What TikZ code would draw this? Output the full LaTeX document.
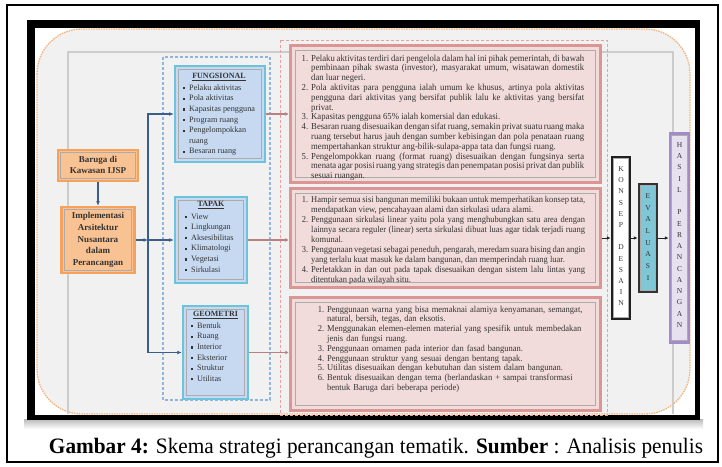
\documentclass[tikz,border=0pt]{standalone}
\usepackage{fontspec}
\setmainfont{Liberation Serif}
\newfontfamily\condserif[FakeStretch=0.945]{Liberation Serif}
\usepackage{graphicx}
\usetikzlibrary{arrows.meta,calc}
\definecolor{bgg}{HTML}{F1F1F1}
\definecolor{orbrd}{HTML}{F6A25A}
\definecolor{orfill}{HTML}{F9C293}
\definecolor{ordash}{HTML}{F5B27A}
\definecolor{blbrd}{HTML}{6CC4DC}
\definecolor{blfill}{HTML}{C6D9F1}
\definecolor{bldash}{HTML}{8FB4E0}
\definecolor{rdbrd}{HTML}{D99694}
\definecolor{rdfill}{HTML}{F2DCDB}
\definecolor{rddash}{HTML}{E8A0A0}
\definecolor{arrblue}{HTML}{3A5D8A}
\definecolor{evfill}{HTML}{7FC6D6}
\definecolor{habrd}{HTML}{A08CC8}
\definecolor{hafill}{HTML}{E6E0EF}
\definecolor{txt}{HTML}{333333}
\newcommand\bsq{\makebox[6pt][l]{\rule[1pt]{2.2pt}{2.2pt}}}
\newenvironment{rlist}[1]{\hyphenpenalty=10000\exhyphenpenalty=10000\begin{list}{\arabic{enumi}.}{\usecounter{enumi}\setlength{\leftmargin}{#1}\setlength{\labelwidth}{8pt}\setlength{\labelsep}{\dimexpr#1-8pt\relax}\setlength{\itemsep}{0pt}\setlength{\parsep}{0pt}\setlength{\topsep}{0pt}\setlength{\partopsep}{0pt}}}{\end{list}}
\newcommand\innerbox[2]{\draw[innerln] ($(#1.north west)+(#2,-#2)$) rectangle ($(#1.south east)+(-#2,#2)$);}
\begin{document}
\begin{tikzpicture}[x=1pt,y=-1pt,
  orangebox/.style={draw=orbrd,line width=2.5pt,fill=orfill,inner sep=0pt},
  bluebox/.style={draw=blbrd,line width=2.5pt,fill=blfill,inner sep=0pt},
  redbox/.style={draw=rdbrd,line width=3pt,fill=rdfill,inner sep=0pt},
  vbox/.style={line width=2.5pt,inner sep=0pt},
  innerln/.style={draw=gray!65,line width=0.8pt},
  blarrow/.style={draw=arrblue,line width=1.3pt,-{Latex[length=4.5pt,width=4pt]}},
  rdarrow/.style={draw=rdbrd!85!black,line width=1.1pt,-{Stealth[length=3.5pt,width=3.5pt]}},
  darrow/.style={draw=gray!25!black,line width=1pt,-{Latex[length=4pt,width=3.5pt]}},
  vlet/.style={font=\fontsize{7.5}{8}\selectfont,text=txt,inner sep=0pt},
  redtxt/.style={anchor=north west,inner sep=0pt,text=txt,font=\condserif\fontsize{9.2}{9.8}\selectfont},
  bltxt/.style={anchor=north west,inner sep=0pt,align=left,text=txt,font=\fontsize{8.2}{10.6}\selectfont},
  bltitle/.style={inner sep=0pt,text=txt,font=\fontsize{8}{9}\selectfont\bfseries},
  ortxt/.style={inner sep=0pt,align=center,text=txt,font=\fontsize{9}{11.7}\selectfont\bfseries}]
\useasboundingbox (0,0) rectangle (722,466);
\fill[white] (0,0) rectangle (722,466);
% outer page border
\draw[black,line width=1.6pt] (7,5) rectangle (718,462);
% shadow and black frame
\shade[top color=gray!55,bottom color=white] (24,419) rectangle (703,429);
\fill[black] (27,20) rectangle (700,420);
\fill[white] (35,28) rectangle (695,415);
% orange rounded background
\draw[ordash,fill=bgg,line width=1.3pt,dash pattern=on 1.5pt off 1pt,rounded corners=45pt] (37,29) rectangle (690,414);
% gray open frame
\draw[gray!40,line width=1.6pt] (68,414) -- (68,52) -- (673,52) -- (673,414);
% dashed groups
\draw[bldash,line width=1.3pt,dash pattern=on 3pt off 2pt] (163,57) rectangle (270,400);
\draw[rddash,line width=0.9pt,dash pattern=on 3pt off 2pt] (280,40) rectangle (607,415);
% orange boxes
\node[orangebox,minimum width=80pt,minimum height=31pt] (o1) at (98,165.5) {};
\innerbox{o1}{4pt}
\node[ortxt] (o1t) at (98,165) {Baruga di\\Kawasan IJSP};
\node[orangebox,minimum width=73pt,minimum height=66pt] (o2) at (98,240) {};
\innerbox{o2}{4pt}
\node[ortxt] (o2t) at (98,240) {Implementasi\\Arsitektur\\Nusantara\\dalam\\Perancangan};
% blue boxes
\node[bluebox,minimum width=90pt,minimum height=96pt] (fung) at (220,114) {};
\innerbox{fung}{4.5pt}
\node[bltitle] (fungt) at (219,77) {\underline{FUNGSIONAL}};
\node[bltxt] (fungl) at (183,84.5) {\bsq Pelaku aktivitas\\\bsq Pola aktivitas\\\bsq Kapasitas pengguna\\\bsq Program ruang\\\bsq Pengelompokkan\\\hspace*{6pt}ruang\\\bsq Besaran ruang};
\node[bluebox,minimum width=72pt,minimum height=86pt] (tapak) at (211,240) {};
\innerbox{tapak}{4.5pt}
\node[bltitle] (tapakt) at (211,205) {\underline{TAPAK}};
\node[bltxt] (tapakl) at (185,213.5) {\bsq View\\\bsq Lingkungan\\\bsq Aksesibilitas\\\bsq Klimatologi\\\bsq Vegetasi\\\bsq Sirkulasi};
\node[bluebox,minimum width=65pt,minimum height=93pt] (geom) at (215.5,352.5) {};
\innerbox{geom}{4.5pt}
\node[bltitle] (geomt) at (215.5,315) {\underline{GEOMETRI}};
\node[bltxt] (geoml) at (191,322.5) {\bsq Bentuk\\\bsq Ruang\\\bsq Interior\\\bsq Eksterior\\\bsq Struktur\\\bsq Utilitas};
% red boxes
\node[redbox,minimum width=310pt,minimum height=137pt] (rb1) at (445,113.5) {};
\innerbox{rb1}{6.5pt}
\node[redtxt,text width=284pt,align=justify] (rb1t) at (300,51) {\begin{rlist}{11pt}
\item Pelaku aktivitas terdiri dari pengelola dalam hal ini pihak pemerintah, di bawah pembinaan pihak swasta (investor), masyarakat umum, wisatawan domestik dan luar negeri.
\item Pola aktivitas para pengguna ialah umum ke khusus, artinya pola aktivitas pengguna dari aktivitas yang bersifat publik lalu ke aktivitas yang bersifat privat.
\item Kapasitas pengguna 65\% ialah komersial dan edukasi.
\item Besaran ruang disesuaikan dengan sifat ruang, semakin privat suatu ruang maka ruang tersebut harus jauh dengan sumber kebisingan dan pola penataan ruang mempertahankan struktur ang-bilik-sulapa-appa tata dan fungsi ruang.
\item Pengelompokkan ruang (format ruang) disesuaikan dengan fungsinya serta menata agar posisi ruang yang strategis dan penempatan posisi privat dan publik sesuai ruangan.
\end{rlist}};
\node[redbox,minimum width=310pt,minimum height=99pt] (rb2) at (445,238) {};
\innerbox{rb2}{6.5pt}
\node[redtxt,text width=285pt,align=justify,font=\condserif\fontsize{9}{10}\selectfont] (rb2t) at (300,192.5) {\begin{rlist}{11pt}
\item Hampir semua sisi bangunan memiliki bukaan untuk memperhatikan konsep tata, mendapatkan view, pencahayaan alami dan sirkulasi udara alami.
\item Penggunaan sirkulasi linear yaitu pola yang menghubungkan satu area dengan lainnya secara reguler (linear) serta sirkulasi dibuat luas agar tidak terjadi ruang komunal.
\item Penggunaan vegetasi sebagai peneduh, pengarah, meredam suara bising dan angin yang terlalu kuat masuk ke dalam bangunan, dan memperindah ruang luar.
\item Perletakkan in dan out pada tapak disesuaikan dengan sistem lalu lintas yang ditentukan pada wilayah situ.
\end{rlist}};
\node[redbox,minimum width=310pt,minimum height=113pt] (rb3) at (445,353.5) {};
\innerbox{rb3}{6.5pt}
\node[redtxt,text width=274pt,align=left,font=\condserif\fontsize{9}{9.8}\selectfont] (rb3t) at (316,302) {\begin{rlist}{11pt}
\item Penggunaan warna yang bisa memaknai alamiya kenyamanan, semangat, natural, bersih, tegas, dan eksotis.
\item Menggunakan elemen-elemen material yang spesifik untuk membedakan jenis dan fungsi ruang.
\item Penggunaan ornamen pada interior dan fasad bangunan.
\item Penggunaan struktur yang sesuai dengan bentang tapak.
\item Utilitas disesuaikan dengan kebutuhan dan sistem dalam bangunan.
\item Bentuk disesuaikan dengan tema (berlandaskan + sampai transformasi bentuk Baruga dari beberapa periode)
\end{rlist}};
% vertical boxes
\node[vbox,draw=gray!25!black,fill=white,minimum width=18pt,minimum height=162pt] (konsep) at (621,238) {};
\innerbox{konsep}{3pt}
\foreach \c [count=\i from 0] in {K,O,N,S,E,P,{},D,E,S,A,I,N} \node[vlet] at (621,{169+\i*11.2}) {\c};
\node[vbox,draw=gray!40!black,fill=evfill,minimum width=18pt,minimum height=108pt] (eval) at (648,238) {};
\innerbox{eval}{3pt}
\foreach \c [count=\i from 0] in {E,V,A,L,U,A,S,I} \node[vlet] at (648,{196+\i*11.7}) {\c};
\node[vbox,draw=habrd,fill=hafill,minimum width=19pt,minimum height=209pt] (hasil) at (679.5,238) {};
\innerbox{hasil}{3pt}
\foreach \c [count=\i from 0] in {H,A,S,I,L,{},P,E,R,A,N,C,A,N,G,A,N} \node[vlet] at (679.5,{145+\i*11.25}) {\c};
% blue connectors
\coordinate (tj) at (148,240);
\draw[blarrow] (o1.south) -- (o2.north);
\draw[blarrow] (o2.east) -- (tj);
\draw[blarrow] (tj) -- (tapak.west);
\draw[blarrow] (tj) |- (fung.west);
\draw[blarrow] (tj) |- (geom.west);
% red connectors
\draw[rdarrow] (fung.east) -- (fung.east -| rb1.west);
\draw[rdarrow] (tapak.east) -- (tapak.east -| rb2.west);
\draw[rdarrow] (geom.east) -- (geom.east -| rb3.west);
% right arrows
\draw[darrow] (rb2.east) -- (konsep.west);
\draw[darrow] (konsep.east) -- (eval.west);
\draw[darrow] (eval.east) -- (hasil.west);
% caption
\node[inner sep=0pt] (cap) at (376,448) {\resizebox{654pt}{\height}{\fontsize{22}{26}\selectfont\textbf{Gambar 4:} Skema strategi perancangan tematik. \textbf{Sumber} : Analisis penulis}};
\end{tikzpicture}
\end{document}
